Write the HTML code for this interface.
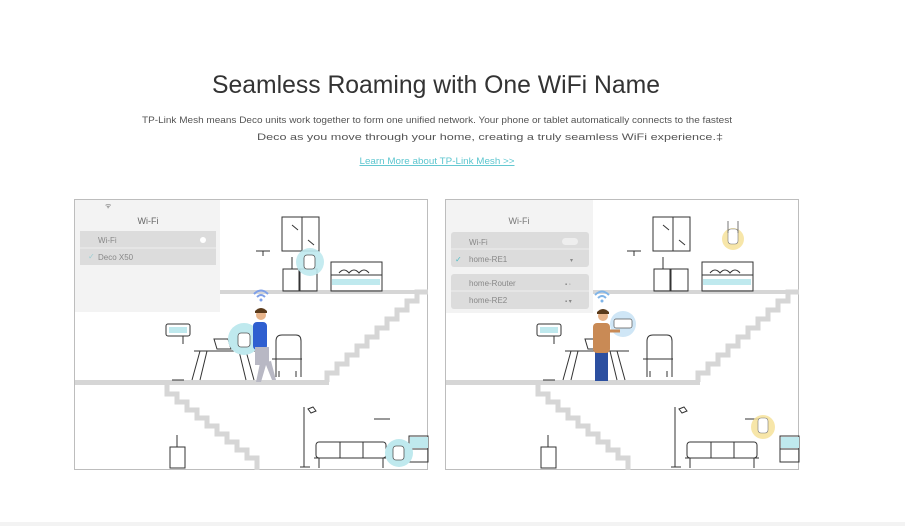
<!DOCTYPE html>
<html><head><meta charset="utf-8"><style>
html,body{margin:0;padding:0;background:#fff;width:905px;height:526px;overflow:hidden}
svg{display:block}
text{font-family:"Liberation Sans",sans-serif}
</style></head><body>
<svg width="905" height="526" viewBox="0 0 905 526" xmlns="http://www.w3.org/2000/svg">
<defs>
<g id="scene">
  <rect x="0.5" y="0.5" width="353" height="270" fill="#fff" stroke="#bdbdbd"/>
  <!-- floors -->
  <rect x="145" y="91" width="209" height="4" fill="#d6d6d6"/>
  <rect x="1" y="181" width="254" height="5" fill="#d6d6d6"/>
  <polyline points="253,183 253,174 263,174 263,165 273,165 273,156 283,156 283,147 293,147 293,138 303,138 303,129 313,129 313,120 323,120 323,111 333,111 333,102 343,102 343,93 354,93" fill="none" stroke="#d6d6d6" stroke-width="5"/>
  <polyline points="93,186 93,195 103,195 103,203 113,203 113,211 123,211 123,219 133,219 133,227 143,227 143,235 153,235 153,243 163,243 163,251 173,251 173,259 183,259 183,271" fill="none" stroke="#d6d6d6" stroke-width="5"/>
  <g fill="none" stroke="#333" stroke-width="1">
    <!-- wardrobe -->
    <rect x="208" y="18" width="37" height="34"/><line x1="228" y1="18" x2="228" y2="52"/>
    <line x1="218" y1="26" x2="224" y2="31"/><line x1="234" y1="41" x2="240" y2="46"/>
    <line x1="182" y1="52" x2="196" y2="52"/><line x1="189" y1="52" x2="189" y2="57"/>
    <!-- nightstands -->
    <rect x="209" y="70" width="16" height="22"/><rect x="226" y="70" width="17" height="22"/>
    <line x1="218" y1="58" x2="218" y2="70"/>
    <!-- bed -->
    <rect x="257" y="63" width="51" height="29"/><line x1="257" y1="76" x2="308" y2="76"/>
    <path d="M265 74 q5 -6 10 0 q5 -6 10 0 q5 -6 10 0"/>
    <!-- picture -->
    <rect x="92" y="125" width="24" height="12" rx="2"/>
    <line x1="109" y1="137" x2="109" y2="145"/>
    <!-- table -->
    <line x1="120" y1="152" x2="184" y2="152"/>
    <line x1="126" y1="152" x2="118" y2="181"/><line x1="133" y1="152" x2="126" y2="181"/>
    <line x1="165" y1="152" x2="172" y2="181"/><line x1="172" y1="152" x2="180" y2="181"/>
    <path d="M140 140 h14 l3 10 h-14 z"/>
    <!-- chair -->
    <path d="M202 178 v-36 q0 -6 6 -6 h14 q5 0 5 6 v36 M198 160 h30 M205 178 v-6 M222 178 v-6"/>
    <line x1="98" y1="181" x2="110" y2="181"/>
    <!-- floor lamp -->
    <line x1="230" y1="208" x2="230" y2="268"/><line x1="226" y1="268" x2="236" y2="268"/>
    <path d="M234 210 l5 -2 l3 4 l-5 2 z"/>
    <line x1="300" y1="220" x2="316" y2="220"/>
    <!-- sofa -->
    <rect x="242" y="243" width="70" height="16" rx="3"/><line x1="240" y1="259" x2="314" y2="259"/>
    <line x1="266" y1="243" x2="266" y2="259"/><line x1="289" y1="243" x2="289" y2="259"/>
    <line x1="245" y1="259" x2="245" y2="269"/><line x1="309" y1="259" x2="309" y2="269"/>
    <!-- small nightstand bottom -->
    <rect x="96" y="248" width="15" height="21"/><line x1="103" y1="236" x2="103" y2="248"/>
    <!-- shelf -->
    <rect x="335" y="237" width="19" height="26"/><line x1="335" y1="250" x2="354" y2="250"/>
  </g>
  <rect x="258" y="80" width="48" height="6" fill="#bfe9ee"/>
  <rect x="95" y="128" width="18" height="6" fill="#bfe9ee"/>
  <rect x="336" y="238" width="18" height="11" fill="#bfe9ee"/>
</g>
</defs>

<text x="436" y="93" text-anchor="middle" font-size="25" fill="#333" textLength="448" lengthAdjust="spacingAndGlyphs">Seamless Roaming with One WiFi Name</text>
<text x="437" y="123" text-anchor="middle" font-size="9.5" fill="#555" textLength="590" lengthAdjust="spacingAndGlyphs">TP-Link Mesh means Deco units work together to form one unified network. Your phone or tablet automatically connects to the fastest</text>
<text x="490" y="140" text-anchor="middle" font-size="9.5" fill="#555" textLength="466" lengthAdjust="spacingAndGlyphs">Deco as you move through your home, creating a truly seamless WiFi experience.‡</text>
<text x="437" y="164" text-anchor="middle" font-size="9.5" fill="#5cc6cf" text-decoration="underline" textLength="155" lengthAdjust="spacingAndGlyphs">Learn More about TP-Link Mesh &gt;&gt;</text>

<!-- Panel 1 -->
<g transform="translate(74,199)">
  <use href="#scene"/>
  <circle cx="236" cy="63" r="14" fill="#bfe9ee" opacity="0.9"/>
  <rect x="230" y="56" width="11" height="14" rx="3" fill="#fff" stroke="#555" stroke-width="0.8"/>
  <circle cx="170" cy="140" r="16" fill="#bfe9ee"/>
  <rect x="164" y="134" width="12" height="14" rx="3" fill="#fff" stroke="#555" stroke-width="0.8"/>
  <circle cx="325" cy="254" r="14" fill="#bfe9ee"/>
  <rect x="319" y="247" width="11" height="14" rx="3" fill="#fff" stroke="#555" stroke-width="0.8"/>
  <!-- man -->
  <path d="M186 164 l-4 19 h5 l5 -17 l6 15 h4 l-5 -19 z" fill="#b8b8c4"/>
  <rect x="179" y="123" width="14" height="28" rx="4" fill="#2f5fd0"/>
  <rect x="181" y="148" width="14" height="18" fill="#b8b8c4"/>
  <circle cx="187" cy="116" r="5" fill="#e8b48a"/>
  <path d="M181 112 q6 -6 12 0 v2 h-12 z" fill="#5a3a1a"/>
  <path d="M180 95 q7 -7 14 0 M183 98 q4 -4 8 0" fill="none" stroke="#7fa0e8" stroke-width="2"/>
  <circle cx="187" cy="101" r="1.5" fill="#7fa0e8"/>
  <!-- wifi menu -->
  <rect x="1" y="1" width="145" height="112" fill="#f3f3f3"/>
  <text x="31" y="9" font-size="7" fill="#666">ᯤ</text>
  <text x="74" y="25" font-size="9" fill="#666" text-anchor="middle">Wi-Fi</text>
  <rect x="6" y="32" width="136" height="34" fill="#dcdcdc"/>
  <line x1="6" y1="49" x2="142" y2="49" stroke="#eee"/>
  <text x="24" y="44" font-size="8" fill="#888">Wi-Fi</text>
  <circle cx="129" cy="41" r="3" fill="#fff"/>
  <text x="14" y="60" font-size="8" fill="#9ccfd4">✓</text>
  <text x="24" y="61" font-size="8" fill="#888">Deco X50</text>
</g>

<!-- Panel 2 -->
<g transform="translate(445,199)">
  <use href="#scene"/>
  <circle cx="288" cy="40" r="11" fill="#f6e29a" opacity="0.85"/>
  <rect x="283" y="30" width="10" height="15" rx="3" fill="#fff" stroke="#777" stroke-width="0.6"/>
  <line x1="283" y1="22" x2="283" y2="34" stroke="#777"/><line x1="293" y1="22" x2="293" y2="34" stroke="#777"/>
  <circle cx="318" cy="228" r="12" fill="#f6e29a" opacity="0.85"/>
  <rect x="313" y="219" width="10" height="15" rx="3" fill="#fff" stroke="#777" stroke-width="0.6"/>
  <!-- router -->
  <circle cx="178" cy="125" r="13" fill="#cfe6f6"/>
  <rect x="169" y="120" width="18" height="9" rx="2" fill="#fff" stroke="#555" stroke-width="0.7"/>
  <!-- man -->
  <rect x="150" y="150" width="13" height="32" fill="#2c4fa0"/>
  <rect x="148" y="124" width="17" height="30" rx="4" fill="#c98a55"/>
  <circle cx="158" cy="117" r="5" fill="#e8b48a"/>
  <path d="M152 113 q6 -6 12 0 v2 h-12 z" fill="#5a3a1a"/>
  <path d="M165 132 h10" stroke="#c98a55" stroke-width="3"/>
  <path d="M150 96 q7 -7 14 0 M153 99 q4 -4 8 0" fill="none" stroke="#7fb4e8" stroke-width="2"/>
  <circle cx="157" cy="102" r="1.5" fill="#7fb4e8"/>
  <!-- wifi menu -->
  <rect x="1" y="1" width="147" height="113" fill="#f3f3f3"/>
  <text x="74" y="25" font-size="9" fill="#777" text-anchor="middle">Wi-Fi</text>
  <rect x="6" y="33" width="138" height="35" rx="3" fill="#dcdcdc"/>
  <line x1="6" y1="50" x2="144" y2="50" stroke="#eee"/>
  <text x="24" y="46" font-size="8" fill="#888">Wi-Fi</text>
  <rect x="117" y="39" width="16" height="7" rx="3.5" fill="#eee"/>
  <text x="10" y="63" font-size="8" fill="#4fbfc9">✓</text>
  <text x="24" y="63" font-size="8" fill="#888">home-RE1</text>
  <text x="125" y="63" font-size="6" fill="#888">▾</text>
  <rect x="6" y="75" width="138" height="35" rx="3" fill="#dcdcdc"/>
  <line x1="6" y1="92" x2="144" y2="92" stroke="#eee"/>
  <text x="24" y="87" font-size="8" fill="#888">home-Router</text>
  <text x="120" y="87" font-size="6" fill="#888">▪ ◦</text>
  <text x="24" y="104" font-size="8" fill="#888">home-RE2</text>
  <text x="120" y="104" font-size="6" fill="#888">▪ ▾</text>
</g>

<rect x="0" y="522" width="905" height="4" fill="#f3f3f3"/>
</svg>
</body></html>
